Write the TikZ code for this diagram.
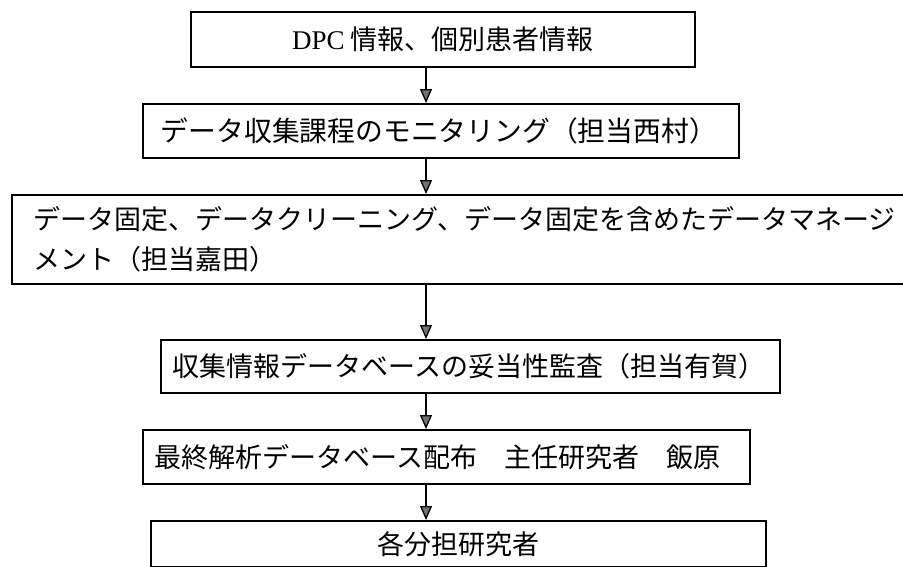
\documentclass[tikz,border=0pt]{standalone}
\usepackage{fontspec}
\setmainfont{Liberation Serif}
\newfontfamily\jp{Noto Sans CJK JP}
\usetikzlibrary{arrows.meta}
\begin{document}
\begin{tikzpicture}[x=1pt,y=-1pt,
  box/.style={draw, line width=1.8pt, rectangle, inner ysep=0pt, anchor=north west,
    font=\fontsize{27}{40}\selectfont\jp},
  flow/.style={draw, line width=1.3pt, -{Triangle[width=12pt,length=14pt,fill=black!55]}}]
\useasboundingbox (0,0) rectangle (903,566);
\clip (0,0) rectangle (903,566);
\coordinate (ax) at (426,0);
\node[box, minimum width=504, minimum height=55] (b1) at (190,11) {{\rmfamily DPC} 情報、個別患者情報};
\node[box, minimum height=54, inner xsep=18, text width=560, align=left, font=\fontsize{27.8}{40}\selectfont\jp] (b2) at (142,103) {データ収集課程のモニタリング（担当西村）};
\node[box, minimum height=89, inner xsep=22, text width=880, align=left] (b3) at (11,194) {データ固定、データクリーニング、データ固定を含めたデータマネージ\\メント（担当嘉田）};
\node[box, minimum height=53, inner xsep=12, text width=595, align=left] (b4) at (160,339) {収集情報データベースの妥当性監査（担当有賀）};
\node[box, minimum height=54, inner xsep=12, text width=583, align=left] (b5) at (142,429) {最終解析データベース配布　主任研究者　飯原};
\node[box, minimum width=615, minimum height=46] (b6) at (150,520) {各分担研究者};
\draw[flow] (b1.south -| ax) -- (b2.north -| ax);
\draw[flow] (b2.south -| ax) -- (b3.north -| ax);
\draw[flow] (b3.south -| ax) -- (b4.north -| ax);
\draw[flow] (b4.south -| ax) -- (b5.north -| ax);
\draw[flow] (b5.south -| ax) -- (b6.north -| ax);
\end{tikzpicture}
\end{document}
